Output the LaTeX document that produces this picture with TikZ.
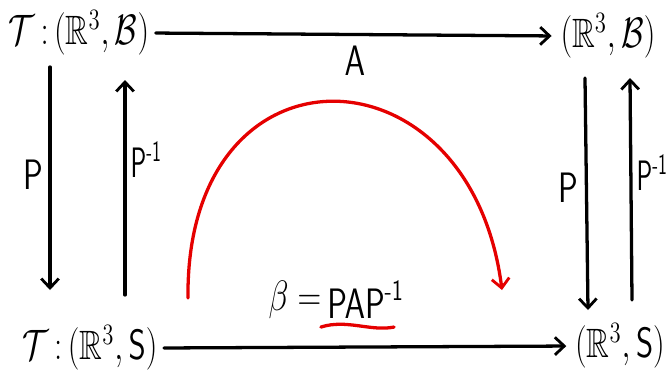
\documentclass[tikz,border=0pt]{standalone}
\usepackage{amsmath,amssymb}
\usetikzlibrary{arrows.meta,positioning}

\tikzset{
	space/.style={inner sep=1pt, font=\fontsize{20}{24}\selectfont, xscale=1.35, yscale=1.75, transform shape},
	map/.style={-{Straight Barb[length=8pt, width=15pt, line width=2.4pt]}, line width=2.8pt},
	lab/.style={inner sep=1pt, font=\fontsize{20}{24}\selectfont, xscale=1.35, yscale=1.75, transform shape},
	invlab/.style={lab, xscale=0.8, anchor=west},
}
\newcommand{\pinv}{\mathsf{P}^{\text{-}\mathsf{1}}}

\begin{document}
\begin{tikzpicture}[x=0.03cm, y=-0.03cm, line join=round, line cap=round]
	\useasboundingbox (0, 0) rectangle (671, 381);
	% the four spaces
	\node[space] (tl) at (79, 33) {$\mathcal{T}\,{:}\,(\mathbb{R}^3, \mathcal{B})$};
	\node[space] (tr) at (608, 36) {$(\mathbb{R}^3, \mathcal{B})$};
	\node[space] (bl) at (90, 348) {$\mathcal{T}\,{:}\,(\mathbb{R}^3, \mathsf{S})$};
	\node[space] (br) at (620, 346) {$(\mathbb{R}^3, \mathsf{S})$};
	% horizontal maps
	\draw[map, shorten <=4pt, shorten >=6pt] (tl.east) -- (tr.west) node[midway, below=6pt, lab] (A) {$\mathsf{A}$};
	\draw[map, shorten <=4pt, shorten >=6pt] (bl.east) -- (br.west);
	\node[lab] (eq) at (295, 300) {$\beta =$};
	\node[lab, right=2pt of eq] (pap) {$\mathsf{PAP}^{\text{-}\mathsf{1}}$};
	\draw[red!90!black, line width=2.8pt] ([xshift=-4pt, yshift=-5pt]pap.south west) .. controls ([xshift=18pt, yshift=2pt]pap.south west) and ([xshift=-30pt, yshift=-9pt]pap.south east) .. ([xshift=-10pt, yshift=-5pt]pap.south east);
	% vertical maps
	\draw[map] (50, 67) coordinate (ld1) -- (50, 290) coordinate (ld2);
	\node[lab] (P1) at (33, 175) {$\mathsf{P}$};
	\draw[map] (125, 295) coordinate (lu1) -- (125, 80) coordinate (lu2);
	\node[invlab] (Pi1) at (129, 160) {$\pinv$};
	\draw[map] (585, 78) coordinate (rd1) -- (588, 310) coordinate (rd2);
	\node[lab] (P2) at (568, 188) {$\mathsf{P}$};
	\draw[map] (632, 300) coordinate (ru1) -- (630, 78) coordinate (ru2);
	\node[invlab] (Pi2) at (635, 173) {$\pinv$};
	% red arc
	\coordinate (c1) at (188, 298);
	\coordinate (c2) at (502, 290);
	\draw[map, red!90!black] (c1) .. controls (185, 35) and (470, 40) .. (c2);
\end{tikzpicture}
\end{document}
